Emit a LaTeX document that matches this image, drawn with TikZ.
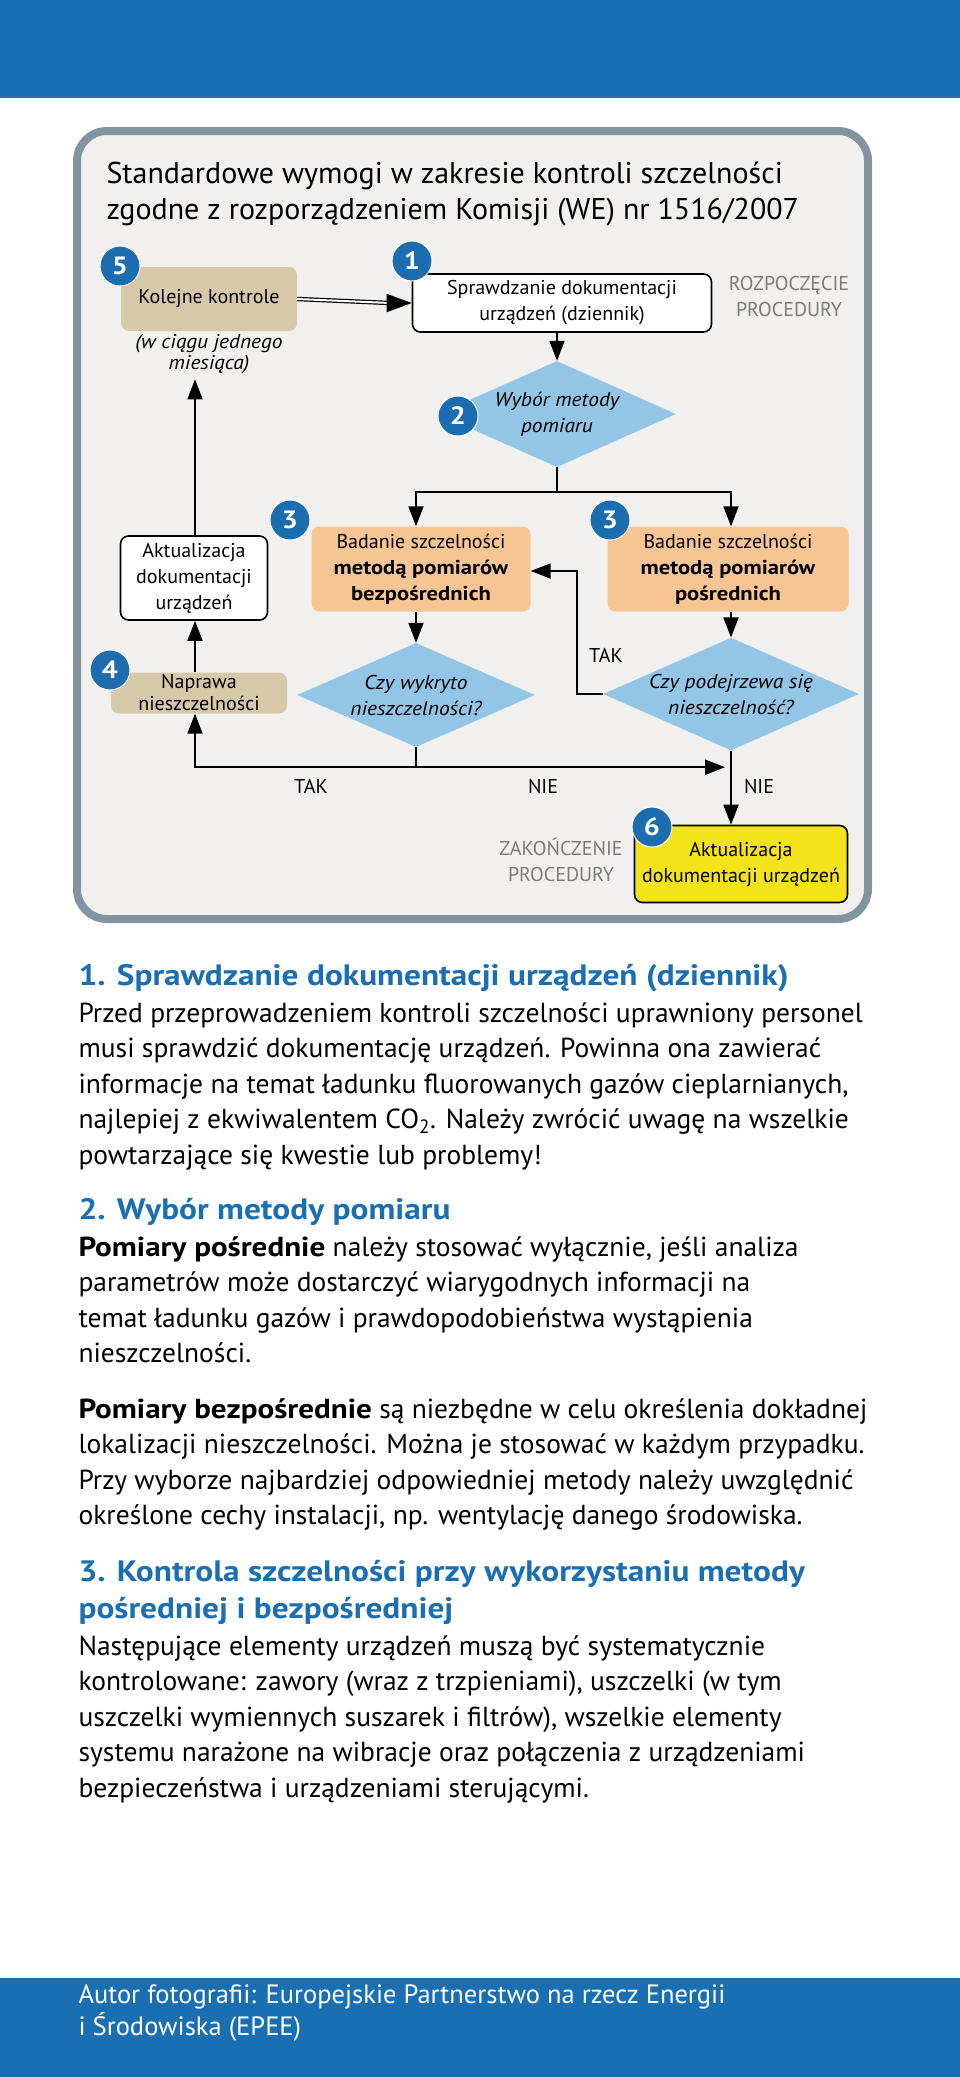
\documentclass[tikz,border=0pt]{standalone}
\usepackage{fontspec}
\setmainfont{PT Sans}[BoldFeatures={FakeStretch=1.13},
    ItalicFeatures={FakeStretch=1.07}]
\usetikzlibrary{arrows.meta,calc,positioning,shapes.geometric}

\definecolor{ecblue}{HTML}{1A6FB3}
\definecolor{badgeblue}{HTML}{1B6DB0}
\definecolor{panelgrey}{HTML}{F1F0EF}
\definecolor{panelline}{HTML}{8294A0}
\definecolor{boxtan}{HTML}{D8C8AA}
\definecolor{boxpeach}{HTML}{F7C594}
\definecolor{diamondblue}{HTML}{92C5E6}
\definecolor{boxyellow}{HTML}{F4E21A}
\definecolor{procgrey}{HTML}{7B7B7B}

\begin{document}
\begin{tikzpicture}[x=1pt,y=-1pt,
    every node/.style={font=\fontsize{20}{26}\selectfont},
    badge/.style={circle, fill=badgeblue, draw=white, line width=1pt,
        minimum size=40pt, inner sep=0pt, text=white,
        font=\fontsize{25}{25}\selectfont\bfseries},
    tanbox/.style={fill=boxtan, rounded corners=8pt, align=center, inner sep=0pt},
    peachbox/.style={fill=boxpeach, rounded corners=8pt, align=center, inner sep=0pt},
    whitebox/.style={fill=white, draw=black, line width=1.6pt, rounded corners=8pt,
        align=center, inner sep=0pt},
    decision/.style={diamond, fill=diamondblue, aspect=2.27, inner sep=0pt,
        align=center, font=\fontsize{20}{26}\selectfont\itshape},
    arr/.style={line width=1.8pt, -{Triangle[length=20pt,width=15pt]}},
    line/.style={line width=1.8pt},
    procnote/.style={text=procgrey, align=center},
    heading/.style={anchor=base west, align=left, text=ecblue,
        font=\fontsize{29.5}{37}\selectfont\bfseries},
    bodytext/.style={anchor=base west, align=left,
        font=\fontsize{27.5}{35.5}\selectfont}
]
\useasboundingbox (0,0) rectangle (960,2077);

% Blue bars
\fill[ecblue] (0,0) rectangle (960,98);
\fill[ecblue] (0,1978) rectangle (960,2077);

% Panel (base anchor = last line)
\draw[line width=8pt, panelline, fill=panelgrey, rounded corners=30pt]
    (77,131) rectangle (868,919);
\node[anchor=base west, align=left, font=\fontsize{30}{36}\selectfont] (title) at (103,219)
    {Standardowe wymogi w zakresie kontroli szczelności\\
     zgodne z rozporządzeniem Komisji (WE) nr 1516/2007};

% Boxes
\node[tanbox, minimum width=176pt, minimum height=64pt] (kolejne) at (209,299) {Kolejne kontrole};
\node[align=center, font=\fontsize{20}{21}\selectfont\itshape] (miesiac) at (209,354)
    {(w ciągu jednego\\miesiąca)};
\node[whitebox, minimum width=299pt, minimum height=58pt] (sprawdz) at (562,303)
    {Sprawdzanie dokumentacji\\urządzeń (dziennik)};
\node[procnote] (start) at (789,296) {ROZPOCZĘCIE\\PROCEDURY};
\node[decision, minimum width=238pt, minimum height=106pt] (wybor) at (557,414)
    {Wybór metody\\pomiaru};
\node[peachbox, minimum width=219pt, minimum height=85pt] (bezp) at (421,569)
    {Badanie szczelności\\\textbf{metodą pomiarów}\\\textbf{bezpośrednich}};
\node[peachbox, minimum width=241pt, minimum height=85pt] (posr) at (728,569)
    {Badanie szczelności\\\textbf{metodą pomiarów}\\\textbf{pośrednich}};
\node[whitebox, minimum width=147pt, minimum height=84pt] (aktual) at (194,578)
    {Aktualizacja\\dokumentacji\\urządzeń};
\node[tanbox, minimum width=176pt, minimum height=41pt, font=\fontsize{20}{22}\selectfont] (naprawa) at (199,693)
    {Naprawa\\nieszczelności};
\node[decision, minimum width=238pt, minimum height=104pt] (wykryto) at (416,695)
    {Czy wykryto\\nieszczelności?};
\node[decision, minimum width=236pt, minimum height=102pt] (podejrz) at (731,694)
    {Czy podejrzewa się\\nieszczelność?};
\node[whitebox, fill=boxyellow, minimum width=213pt, minimum height=77pt] (koniec) at (741,864)
    {Aktualizacja\\dokumentacji urządzeń};
\node[procnote] (stop) at (561,860) {ZAKOŃCZENIE\\PROCEDURY};

% Badges
\node[badge] (n5) at (120,266) {5};
\node[badge] (n1) at (412,261) {1};
\node[badge] (n2) at (458,416) {2};
\node[badge] (n3a) at (290,520) {3};
\node[badge] (n3b) at (610,520) {3};
\node[badge] (n4) at (110,670) {4};
\node[badge] (n6) at (652,827) {6};

% Connectors
\draw[double, double distance=2pt, line width=1.2pt] (kolejne.east) -- ($(sprawdz.west)+(-22,0)$);
\draw[line width=1.8pt, -{Triangle[length=25pt,width=18pt]}] ($(sprawdz.west)+(-24,0)$) -- (sprawdz.west);
\draw[arr] (sprawdz.south -| wybor) -- (wybor.north);
\coordinate (split) at ($(wybor.south)+(0,25)$);
\draw[line] (wybor.south) -- (split);
\draw[arr] (split) -| (bezp.north -| wykryto);
\draw[arr] (split) -| (posr.north -| podejrz);
\draw[arr] (bezp.south -| wykryto) -- (wykryto.north);
\draw[arr] (posr.south -| podejrz) -- (podejrz.north);
\coordinate (back) at (577,571);
\draw[arr] (podejrz.west) -| (back) -- (bezp.east |- back);
\coordinate (join) at ($(wykryto.south)+(0,20)$);
\draw[line] (wykryto.south) -- (join);
\draw[arr] (join) -| (naprawa.south -| 195,0);
\draw[arr] (join) -- ($(join -| podejrz)+(-6,0)$);
\draw[arr] (podejrz.south) -- (koniec.north -| podejrz);
\draw[arr] (naprawa.north -| 195,0) -- (aktual.south -| 195,0);
\draw[arr] (aktual.north -| 195,0) -- ($(miesiac.south -| 195,0)+(0,2)$);

% Labels
\node (tak1) at (606,655) {TAK};
\node (tak2) at (311,786) {TAK};
\node (nie1) at (543,786) {NIE};
\node (nie2) at (759,786) {NIE};

% Text
\node[heading] (h1) at (75,985) {1. Sprawdzanie dokumentacji urządzeń (dziennik)};
\node[bodytext] (p1) at (75,1164)
    {Przed przeprowadzeniem kontroli szczelności uprawniony personel\\
     musi sprawdzić dokumentację urządzeń. Powinna ona zawierać\\
     informacje na temat ładunku fluorowanych gazów cieplarnianych,\\
     najlepiej z ekwiwalentem CO\textsubscript{2}. Należy zwrócić uwagę na wszelkie\\
     powtarzające się kwestie lub problemy!};
\node[heading] (h2) at (75,1219) {2. Wybór metody pomiaru};
\node[bodytext] (p2) at (75,1362.5)
    {\textbf{Pomiary pośrednie} należy stosować wyłącznie, jeśli analiza\\
     parametrów może dostarczyć wiarygodnych informacji na\\
     temat ładunku gazów i prawdopodobieństwa wystąpienia\\
     nieszczelności.};
\node[bodytext] (p3) at (75,1524.5)
    {\textbf{Pomiary bezpośrednie} są niezbędne w celu określenia dokładnej\\
     lokalizacji nieszczelności. Można je stosować w każdym przypadku.\\
     Przy wyborze najbardziej odpowiedniej metody należy uwzględnić\\
     określone cechy instalacji, np. wentylację danego środowiska.};
\node[heading] (h3) at (75,1618)
    {3. Kontrola szczelności przy wykorzystaniu metody\\
     pośredniej i bezpośredniej};
\node[bodytext] (p4) at (75,1797)
    {Następujące elementy urządzeń muszą być systematycznie\\
     kontrolowane: zawory (wraz z trzpieniami), uszczelki (w tym\\
     uszczelki wymiennych suszarek i filtrów), wszelkie elementy\\
     systemu narażone na wibracje oraz połączenia z urządzeniami\\
     bezpieczeństwa i urządzeniami sterującymi.};

% Footer
\node[anchor=base west, align=left, text=white, font=\fontsize{26.5}{32}\selectfont] (foot) at (75,2035)
    {Autor fotografii: Europejskie Partnerstwo na rzecz Energii\\
     i Środowiska (EPEE)};

\end{tikzpicture}
\end{document}
